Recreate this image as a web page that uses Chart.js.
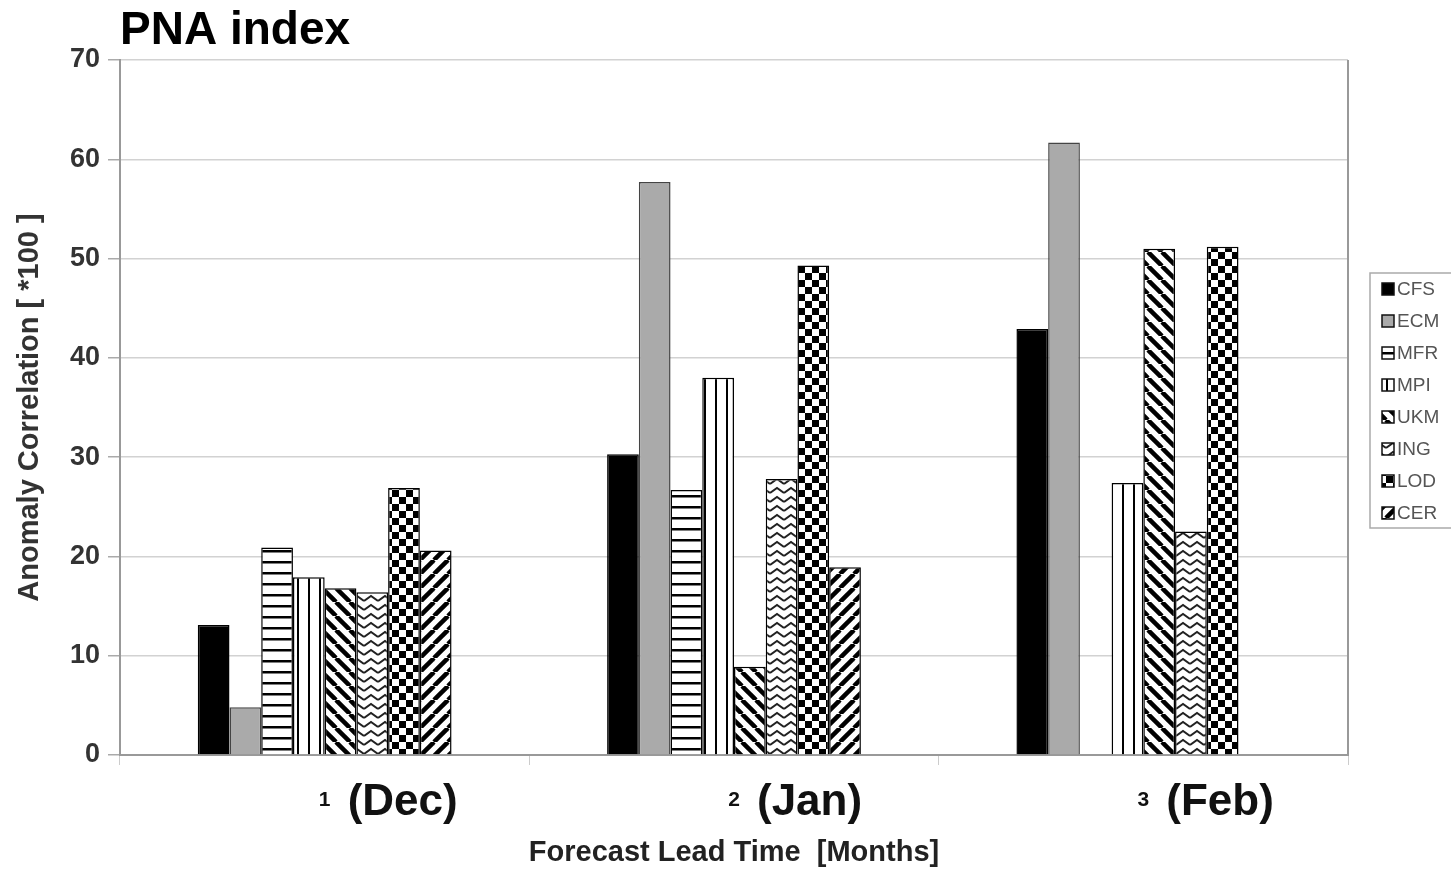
<!DOCTYPE html>
<html>
<head>
<meta charset="utf-8">
<script src="https://cdn.jsdelivr.net/npm/chart.js@4.4.1/dist/chart.umd.min.js"></script>
<style>
  body { margin: 0; background: #fff; }
  #wrap { width: 1451px; height: 869px; }
</style>
</head>
<body>
<div id="wrap"><canvas id="chart"></canvas></div>
<script>
// lead time (tick) and the month name shown next to it
const leadTimes = ['1', '2', '3'];
const months = ['(Dec)', '(Jan)', '(Feb)'];

// anomaly correlation *100, one array per model
const cfs = [13.1, 30.3, 42.9];
const ecm = [4.8, 57.7, 61.7];
const mfr = [20.9, 26.7, null];
const mpi = [17.9, 38.0, 27.4];
const ukm = [16.8, 8.9, 51.0];
const ing = [16.4, 27.8, 22.5];
const lod = [26.9, 49.3, 51.2];
const cer = [20.6, 18.9, null];

const yMin = 0;
const yMax = 70;
const yStep = 10;

const FONT = '"Liberation Sans", Arial, Helvetica, sans-serif';

function makePattern(w, h, draw) {
  const c = document.createElement('canvas');
  c.width = w;
  c.height = h;
  const g = c.getContext('2d');
  g.fillStyle = '#fff';
  g.fillRect(0, 0, w, h);
  draw(g, w, h);
  return g.createPattern(c, 'repeat');
}

const hLines = makePattern(11, 11, (g, w) => {
  g.fillStyle = '#000';
  g.fillRect(0, 0, w, 2.5);
});

const vLines = makePattern(11, 11, (g, w, h) => {
  g.fillStyle = '#000';
  g.fillRect(0, 0, 2, h);
});

const diagDown = makePattern(14, 14, (g, s) => {
  g.strokeStyle = '#000';
  g.lineWidth = 4.5;
  for (const x0 of [-s, 0, s]) {
    g.beginPath();
    g.moveTo(x0, 0);
    g.lineTo(x0 + s, s);
    g.stroke();
  }
});

const diagUp = makePattern(14, 14, (g, s) => {
  g.strokeStyle = '#000';
  g.lineWidth = 4.5;
  for (const x0 of [-s, 0, s]) {
    g.beginPath();
    g.moveTo(x0, s);
    g.lineTo(x0 + s, 0);
    g.stroke();
  }
});

const zigzag = makePattern(14, 9, (g, w, h) => {
  g.strokeStyle = '#222';
  g.lineWidth = 2;
  g.beginPath();
  g.moveTo(0, 7);
  g.lineTo(w / 2, 2);
  g.lineTo(w, 7);
  g.stroke();
});

const checker = makePattern(14, 14, (g) => {
  g.fillStyle = '#000';
  g.fillRect(0, 0, 7, 7);
  g.fillRect(7, 7, 7, 7);
});

function bars(label, data, fill, border) {
  return {
    label: label,
    data: data,
    backgroundColor: fill,
    borderColor: border || '#000',
    borderWidth: 1.5,
  };
}

const datasets = [
  bars('CFS', cfs, '#000'),
  bars('ECM', ecm, '#aaaaaa', '#444'),
  bars('MFR', mfr, hLines),
  bars('MPI', mpi, vLines),
  bars('UKM', ukm, diagDown),
  bars('ING', ing, zigzag),
  bars('LOD', lod, checker),
  bars('CER', cer, diagUp),
];

// right border of the plot, month names beside the ticks, boxed legend
const extras = {
  id: 'extras',
  afterDraw(chart) {
    const { ctx, chartArea: a, scales: { x } } = chart;
    ctx.save();
    ctx.strokeStyle = '#999';
    ctx.lineWidth = 2;
    ctx.beginPath();
    ctx.moveTo(a.right, a.top);
    ctx.lineTo(a.right, a.bottom);
    ctx.stroke();

    ctx.fillStyle = '#111';
    ctx.font = 'bold 44px ' + FONT;
    ctx.textAlign = 'left';
    ctx.textBaseline = 'middle';
    months.forEach((m, i) => {
      ctx.fillText(m, x.getPixelForValue(i) + 23, 803);
    });

    const lx = a.right + 22;
    const top = 273;
    ctx.strokeStyle = '#aaa';
    ctx.lineWidth = 1.5;
    ctx.strokeRect(lx, top, 120, 255);
    ctx.font = '19px ' + FONT;
    chart.data.datasets.forEach((ds, i) => {
      const cy = top + 16 + i * 32;
      ctx.fillStyle = ds.backgroundColor;
      ctx.fillRect(lx + 12, cy - 6, 12, 12);
      ctx.strokeStyle = '#111';
      ctx.lineWidth = 1.5;
      ctx.strokeRect(lx + 12, cy - 6, 12, 12);
      ctx.fillStyle = '#555';
      ctx.fillText(ds.label, lx + 27, cy + 1);
    });
    ctx.restore();
  }
};

new Chart(document.getElementById('chart'), {
  type: 'bar',
  data: {
    labels: leadTimes,
    datasets: datasets,
  },
  plugins: [extras],
  options: {
    responsive: true,
    maintainAspectRatio: false,
    animation: false,
    layout: { padding: { left: 0, right: 103, top: 0, bottom: 0 } },
    datasets: {
      bar: { categoryPercentage: 0.62, barPercentage: 1.0 },
    },
    plugins: {
      legend: { display: false },
      tooltip: { enabled: false },
      title: {
        display: true,
        text: 'PNA index',
        align: 'start',
        fullSize: false,
        color: '#000',
        font: { family: FONT, size: 46, weight: 'bold' },
        padding: { top: 4, bottom: 0.8 },
      },
    },
    scales: {
      x: {
        afterFit(scale) { scale.height = 114; },
        grid: {
          drawOnChartArea: false,
          tickLength: 10,
          color: '#ccc',
          offset: true,
        },
        border: { color: '#999', width: 2 },
        ticks: {
          color: '#111',
          padding: 23,
          font: { family: FONT, size: 21, weight: 'bold' },
        },
        title: {
          display: true,
          text: 'Forecast Lead Time  [Months]',
          color: '#222',
          font: { family: FONT, size: 29, weight: 'bold' },
          padding: { top: 0, bottom: -1 },
        },
      },
      y: {
        min: yMin,
        max: yMax,
        afterFit(scale) { scale.width = 120; },
        grid: {
          color: '#d2d2d2',
          lineWidth: 1.5,
          tickLength: 12,
          tickColor: '#aaa',
        },
        border: { color: '#999', width: 2 },
        ticks: {
          stepSize: yStep,
          color: '#333',
          padding: 8,
          font: { family: FONT, size: 27, weight: 'bold' },
        },
        title: {
          display: true,
          text: 'Anomaly Correlation [ *100 ]',
          color: '#333',
          font: { family: FONT, size: 29, weight: 'bold' },
          padding: { top: 13, bottom: 0 },
        },
      },
    },
  },
});
</script>
</body>
</html>
